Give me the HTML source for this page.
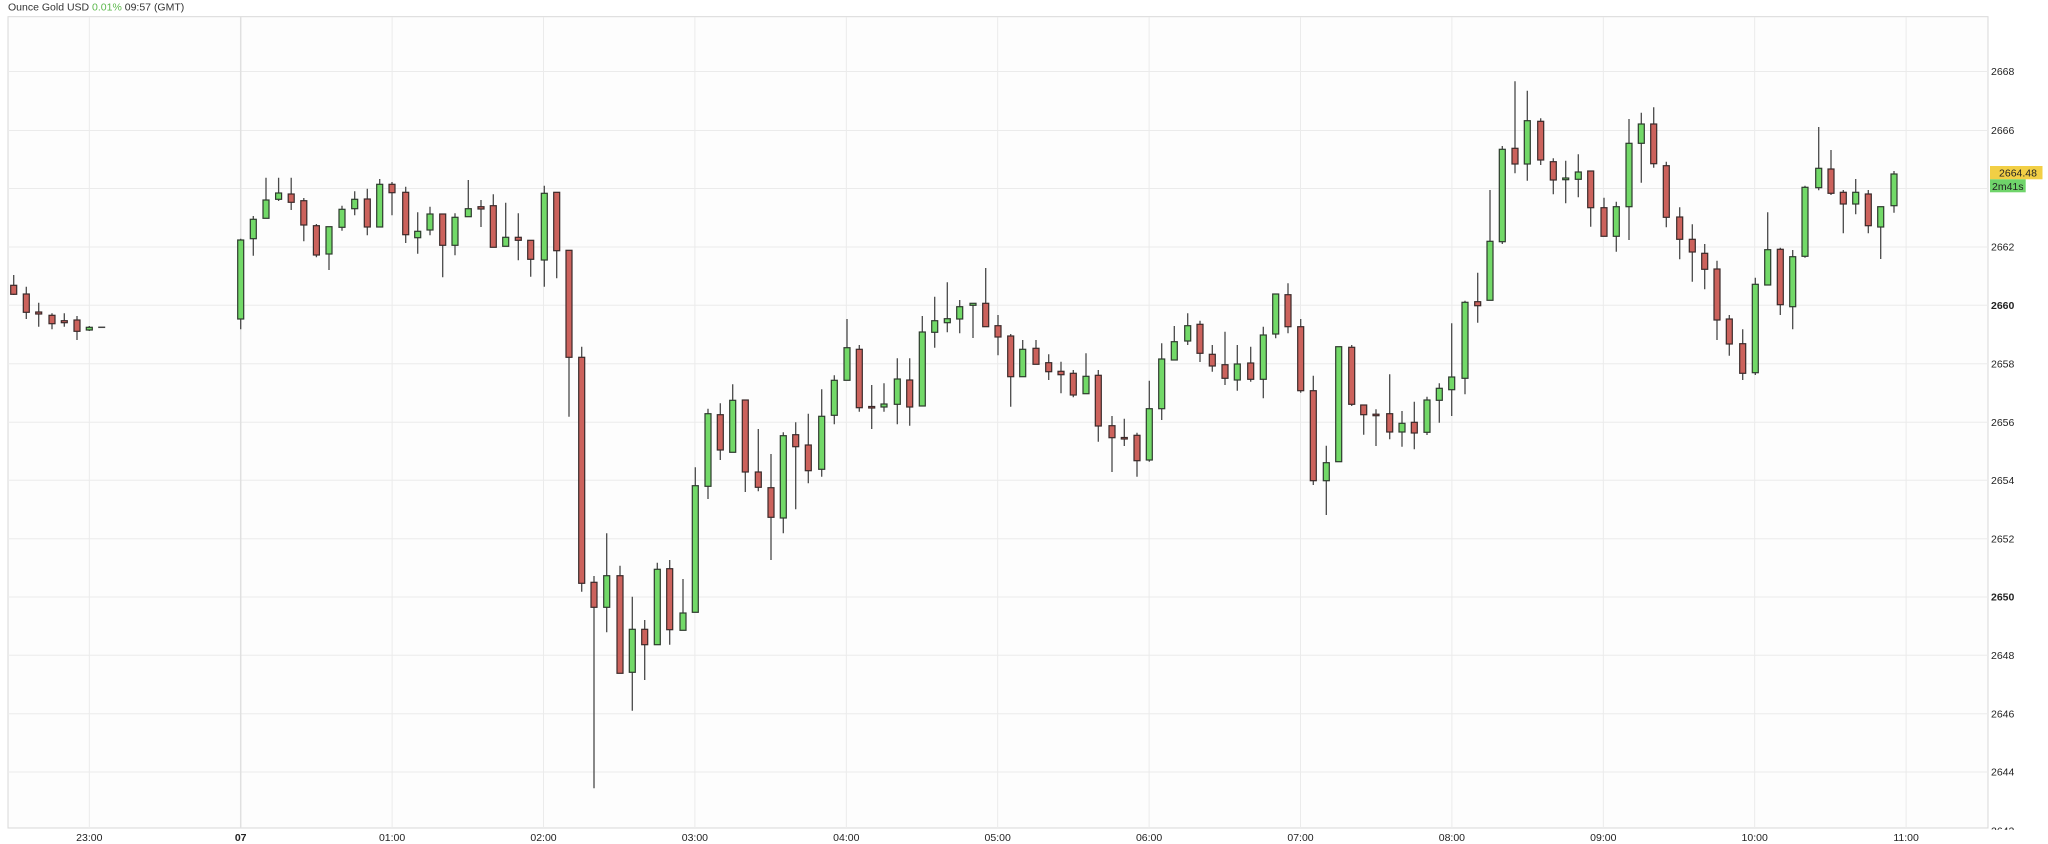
<!DOCTYPE html>
<html><head><meta charset="utf-8">
<style>
html,body{margin:0;padding:0;background:#fff;}
body{width:2048px;height:844px;overflow:hidden;}
svg{display:block;font-family:"Liberation Sans",Arial,sans-serif;}
.w{stroke:#4a4a4a;stroke-width:1.3;fill:none;}
.g rect{fill:#72d968;stroke:#2e3a2e;stroke-width:1.2;}
.r rect{fill:#cc625c;stroke:#3a2a2a;stroke-width:1.2;}
.grid{stroke:#ebebeb;stroke-width:1;}
.yl{font-size:10.5px;fill:#222;}
.xl{font-size:10.5px;fill:#222;text-anchor:middle;}
</style></head><body>
<svg width="2048" height="844" viewBox="0 0 2048 844" xmlns="http://www.w3.org/2000/svg">
<defs><clipPath id="axc"><rect x="1989" y="0" width="59" height="830"/></clipPath></defs>
<text x="8" y="10.5" font-size="10.5" fill="#333">Ounce Gold USD <tspan fill="#5cb84c">0.01%</tspan> 09:57 (GMT)</text>
<rect x="8" y="16.7" width="1980" height="811.3" fill="#fdfdfd" stroke="#d8d8d8" stroke-width="1"/>
<g class="grid">
<line x1="8" x2="1988" y1="71.5" y2="71.5"/>
<line x1="8" x2="1988" y1="130.5" y2="130.5"/>
<line x1="8" x2="1988" y1="188.5" y2="188.5"/>
<line x1="8" x2="1988" y1="247" y2="247"/>
<line x1="8" x2="1988" y1="305.3" y2="305.3"/>
<line x1="8" x2="1988" y1="363.7" y2="363.7"/>
<line x1="8" x2="1988" y1="422.3" y2="422.3"/>
<line x1="8" x2="1988" y1="480.3" y2="480.3"/>
<line x1="8" x2="1988" y1="538.7" y2="538.7"/>
<line x1="8" x2="1988" y1="597" y2="597"/>
<line x1="8" x2="1988" y1="655.3" y2="655.3"/>
<line x1="8" x2="1988" y1="713.7" y2="713.7"/>
<line x1="8" x2="1988" y1="772" y2="772"/>
<line x1="89.3" x2="89.3" y1="17" y2="828"/>
<line x1="392.1" x2="392.1" y1="17" y2="828"/>
<line x1="543.5" x2="543.5" y1="17" y2="828"/>
<line x1="694.9" x2="694.9" y1="17" y2="828"/>
<line x1="846.3" x2="846.3" y1="17" y2="828"/>
<line x1="997.7" x2="997.7" y1="17" y2="828"/>
<line x1="1149.1" x2="1149.1" y1="17" y2="828"/>
<line x1="1300.5" x2="1300.5" y1="17" y2="828"/>
<line x1="1451.9" x2="1451.9" y1="17" y2="828"/>
<line x1="1603.3" x2="1603.3" y1="17" y2="828"/>
<line x1="1754.7" x2="1754.7" y1="17" y2="828"/>
<line x1="1906.1" x2="1906.1" y1="17" y2="828"/>
</g>
<line x1="240.7" x2="240.7" y1="17" y2="828" stroke="#e0e0e0" stroke-width="1.5"/>
<path class="w" d="M13.7 275V295M26.3 286.7V319M38.7 302.7V326.7M52 313.3V329.3M64.3 313.3V326.7M77 316V340M89.3 326V331M240.7 238.7V329.3M253.3 216V255.7M266 177.7V218.3M278.6 177.7V201M291.2 177.7V210M303.8 198V241.3M316.4 224V257.3M329 226.7V270M342 205.7V230.7M354.7 191.3V215.3M367.3 188.7V235.3M379.7 179V227M392 182V215.3M405.7 186.7V243M417.7 212.3V253.7M430 206.7V235.3M442.7 214V277.3M455 213.3V255.3M468.3 180V216.7M481 200V227M493.3 194.3V247.3M505.7 202.7V246.3M518.3 213.3V260.3M530.7 240.3V276.7M544.3 185.7V286.7M556.7 192.3V278.3M569 250.3V416.7M581.7 346.7V591.7M594 576V788.3M606.7 533.3V632.3M620 565.7V673.3M632.3 596.7V710.7M644.7 620V680M657.3 562.7V644.7M669.7 560V644.7M683 579V630.3M695.3 467.3V612.3M708 408.7V499M720.3 403.3V460M732.7 384.3V452.3M745.3 400V492M758.3 429V491.3M771 454V560M783.3 432.3V533.3M795.7 422.3V509.3M808.3 413.7V483.3M821.7 389.3V476.7M834.3 375.3V424.3M847 319V380.3M859.3 345V411.7M871.7 385V429M884 383.3V411.7M897.3 358.3V424.3M909.7 358.3V425.7M922.3 316V406M934.7 296.7V347.7M947.3 282.3V332.3M959.7 300V333.3M973 303.3V338M985.7 268V326.7M998 315V355.3M1010.7 334V406.7M1022.7 340V376.7M1036 340V364.3M1048.7 354.3V380M1061 361.7V393.3M1073.3 370V397.3M1086 353.3V393.7M1098.3 370V441.7M1112 416V472M1124.3 418.7V446M1137 432.7V476.7M1149.3 380.7V461.7M1161.7 343.3V420M1174.3 326V360M1187.7 313.3V345M1200 320.7V362M1212.3 345V371.7M1225 331.7V385M1237.3 345V390.7M1250.7 346.7V381.7M1263.3 326.7V398.3M1275.7 294V338.3M1288 283.3V333.3M1300.7 319V392.7M1313.3 375.7V485M1326.3 445.7V515M1338.7 346.7V461.7M1351.7 345V406M1363.7 405V434.7M1376 409.3V446M1389.7 374.3V439.3M1402 411V446.7M1414.3 401.7V449.3M1427 396.7V435M1439.3 383.3V422.7M1451.7 323.3V416M1465 300.7V394.3M1477.7 272.7V322.7M1490 190V300.3M1502.3 146V244M1515 81.3V173.3M1527.3 90.7V180.7M1540.7 118.3V165M1553.3 158.3V194.3M1565.7 160.7V203.3M1578.3 154.3V197.3M1590.7 171V226.7M1604 197.7V236.3M1616.3 201.7V251.7M1629 119V240M1641.3 112.7V182.7M1653.7 107.3V167.7M1666.3 161.7V227.3M1679.7 207.3V259.3M1692.3 224.3V281.7M1704.7 244V289.3M1717 260.7V340M1729.3 315V355.7M1742.7 329.3V380M1755.3 277.7V375M1767.7 212.3V285M1780.3 247.7V315M1792.7 250V329.3M1805 185.7V257.7M1818.7 127V190.3M1831 150V195M1843.3 190V233.3M1855.7 179V214.3M1868.3 190V233.3M1880.7 206.7V259M1894 171V212.7"/>
<line x1="98.2" x2="105.2" y1="327.3" y2="327.3" stroke="#444" stroke-width="1.5"/>
<g class="r">
<rect x="10.7" y="285.3" width="6" height="9"/>
<rect x="23.3" y="294" width="6" height="18.3"/>
<rect x="35.7" y="312" width="6" height="2"/>
<rect x="49" y="315.3" width="6" height="8.4"/>
<rect x="61.3" y="320.7" width="6" height="2"/>
<rect x="74" y="320" width="6" height="11.3"/>
<rect x="288.2" y="194" width="6" height="8.3"/>
<rect x="300.8" y="200.7" width="6" height="24.3"/>
<rect x="313.4" y="225.7" width="6" height="29.3"/>
<rect x="364.3" y="199" width="6" height="28"/>
<rect x="389" y="184.3" width="6" height="8.4"/>
<rect x="402.7" y="192.3" width="6" height="42.4"/>
<rect x="439.7" y="214" width="6" height="31.3"/>
<rect x="478" y="206.7" width="6" height="2.3"/>
<rect x="490.3" y="205.7" width="6" height="41.6"/>
<rect x="515.3" y="237.3" width="6" height="3"/>
<rect x="527.7" y="240.3" width="6" height="19"/>
<rect x="553.7" y="192.3" width="6" height="58.4"/>
<rect x="566" y="250.3" width="6" height="107"/>
<rect x="578.7" y="357.3" width="6" height="226"/>
<rect x="591" y="582.3" width="6" height="25"/>
<rect x="617" y="575.7" width="6" height="97.6"/>
<rect x="641.7" y="629.3" width="6" height="15.4"/>
<rect x="666.7" y="568.7" width="6" height="61"/>
<rect x="717.3" y="414.7" width="6" height="35.3"/>
<rect x="742.3" y="400" width="6" height="72"/>
<rect x="755.3" y="472" width="6" height="15.3"/>
<rect x="768" y="487.7" width="6" height="29.6"/>
<rect x="792.7" y="434.7" width="6" height="12"/>
<rect x="805.3" y="445" width="6" height="25.7"/>
<rect x="856.3" y="349.3" width="6" height="58.4"/>
<rect x="868.7" y="406.5" width="6" height="1.5"/>
<rect x="906.7" y="380" width="6" height="27"/>
<rect x="982.7" y="303.3" width="6" height="23.4"/>
<rect x="995" y="325.7" width="6" height="11.3"/>
<rect x="1007.7" y="336" width="6" height="40.7"/>
<rect x="1033" y="348.3" width="6" height="16"/>
<rect x="1045.7" y="362.7" width="6" height="9"/>
<rect x="1058" y="371.3" width="6" height="3.4"/>
<rect x="1070.3" y="373.3" width="6" height="21.7"/>
<rect x="1095.3" y="375.3" width="6" height="50.7"/>
<rect x="1109" y="425.7" width="6" height="12"/>
<rect x="1121.3" y="437.5" width="6" height="1.5"/>
<rect x="1134" y="435.3" width="6" height="25.4"/>
<rect x="1197" y="324.3" width="6" height="29"/>
<rect x="1209.3" y="354.3" width="6" height="11.7"/>
<rect x="1222" y="364.7" width="6" height="13.6"/>
<rect x="1247.7" y="363" width="6" height="16.3"/>
<rect x="1285" y="294.7" width="6" height="32"/>
<rect x="1297.7" y="326.7" width="6" height="64"/>
<rect x="1310.3" y="390.7" width="6" height="90"/>
<rect x="1348.7" y="347.3" width="6" height="57"/>
<rect x="1360.7" y="405" width="6" height="9.7"/>
<rect x="1373" y="414.2" width="6" height="1.5"/>
<rect x="1386.7" y="413.7" width="6" height="18.3"/>
<rect x="1411.3" y="422.3" width="6" height="10.7"/>
<rect x="1474.7" y="301.7" width="6" height="4"/>
<rect x="1512" y="148.3" width="6" height="15.7"/>
<rect x="1537.7" y="121.3" width="6" height="38.7"/>
<rect x="1550.3" y="161.7" width="6" height="18.3"/>
<rect x="1587.7" y="171" width="6" height="36.7"/>
<rect x="1601" y="207.7" width="6" height="28.6"/>
<rect x="1650.7" y="124" width="6" height="39.7"/>
<rect x="1663.3" y="165.7" width="6" height="51.6"/>
<rect x="1676.7" y="217" width="6" height="22.3"/>
<rect x="1689.3" y="239.3" width="6" height="12.7"/>
<rect x="1701.7" y="253.3" width="6" height="16"/>
<rect x="1714" y="269" width="6" height="51"/>
<rect x="1726.3" y="319" width="6" height="25"/>
<rect x="1739.7" y="343.7" width="6" height="29.6"/>
<rect x="1777.3" y="249.3" width="6" height="55.4"/>
<rect x="1828" y="169" width="6" height="24.3"/>
<rect x="1840.3" y="192.3" width="6" height="11.7"/>
<rect x="1865.3" y="194" width="6" height="31.7"/>
</g>
<g class="g">
<rect x="86.3" y="327.3" width="6" height="2.7"/>
<rect x="237.7" y="240" width="6" height="79"/>
<rect x="250.3" y="219.3" width="6" height="19.4"/>
<rect x="263" y="200" width="6" height="18.3"/>
<rect x="275.6" y="193" width="6" height="6.3"/>
<rect x="326" y="226.7" width="6" height="27.3"/>
<rect x="339" y="209.3" width="6" height="18"/>
<rect x="351.7" y="199.3" width="6" height="9.4"/>
<rect x="376.7" y="184.3" width="6" height="42.7"/>
<rect x="414.7" y="231.3" width="6" height="6.4"/>
<rect x="427" y="214" width="6" height="16"/>
<rect x="452" y="217.3" width="6" height="28"/>
<rect x="465.3" y="208.7" width="6" height="8"/>
<rect x="502.7" y="237.3" width="6" height="9"/>
<rect x="541.3" y="193.3" width="6" height="66.7"/>
<rect x="603.7" y="575.7" width="6" height="31.6"/>
<rect x="629.3" y="629.3" width="6" height="43"/>
<rect x="654.3" y="569.3" width="6" height="75.4"/>
<rect x="680" y="613" width="6" height="17.3"/>
<rect x="692.3" y="485.7" width="6" height="126.6"/>
<rect x="705" y="413.7" width="6" height="72.6"/>
<rect x="729.7" y="400.3" width="6" height="52"/>
<rect x="780.3" y="435.7" width="6" height="82.3"/>
<rect x="818.7" y="416.3" width="6" height="53"/>
<rect x="831.3" y="380.3" width="6" height="35"/>
<rect x="844" y="347.7" width="6" height="32.6"/>
<rect x="881" y="404" width="6" height="3"/>
<rect x="894.3" y="379" width="6" height="25.3"/>
<rect x="919.3" y="332" width="6" height="74"/>
<rect x="931.7" y="320.7" width="6" height="11.6"/>
<rect x="944.3" y="318.7" width="6" height="4"/>
<rect x="956.7" y="306.7" width="6" height="12.3"/>
<rect x="970" y="303.3" width="6" height="2"/>
<rect x="1019.7" y="349.3" width="6" height="27.4"/>
<rect x="1083" y="376.3" width="6" height="17.4"/>
<rect x="1146.3" y="408.7" width="6" height="51.3"/>
<rect x="1158.7" y="359" width="6" height="49.7"/>
<rect x="1171.3" y="341.7" width="6" height="18.3"/>
<rect x="1184.7" y="325.7" width="6" height="15.3"/>
<rect x="1234.3" y="364" width="6" height="16"/>
<rect x="1260.3" y="335" width="6" height="44.3"/>
<rect x="1272.7" y="294" width="6" height="40"/>
<rect x="1323.3" y="462.7" width="6" height="18"/>
<rect x="1335.7" y="346.7" width="6" height="115"/>
<rect x="1399" y="423.3" width="6" height="8.7"/>
<rect x="1424" y="400" width="6" height="32.3"/>
<rect x="1436.3" y="388.3" width="6" height="12"/>
<rect x="1448.7" y="377" width="6" height="12.7"/>
<rect x="1462" y="302.3" width="6" height="76"/>
<rect x="1487" y="241.3" width="6" height="59"/>
<rect x="1499.3" y="149.3" width="6" height="92.4"/>
<rect x="1524.3" y="120.7" width="6" height="43.3"/>
<rect x="1562.7" y="178" width="6" height="1.7"/>
<rect x="1575.3" y="172" width="6" height="7.3"/>
<rect x="1613.3" y="206.7" width="6" height="29.6"/>
<rect x="1626" y="143.3" width="6" height="63.4"/>
<rect x="1638.3" y="124" width="6" height="19.3"/>
<rect x="1752.3" y="284.3" width="6" height="88.4"/>
<rect x="1764.7" y="249.7" width="6" height="35.3"/>
<rect x="1789.7" y="256.7" width="6" height="50"/>
<rect x="1802" y="187.3" width="6" height="69"/>
<rect x="1815.7" y="168.3" width="6" height="19.4"/>
<rect x="1852.7" y="192.3" width="6" height="11.7"/>
<rect x="1877.7" y="206.7" width="6" height="20.3"/>
<rect x="1891" y="174" width="6" height="31.7"/>
</g>
<g clip-path="url(#axc)">
<text class="yl" x="1991" y="75.2">2668</text>
<text class="yl" x="1991" y="134.2">2666</text>
<text class="yl" x="1991" y="250.7">2662</text>
<text class="yl" x="1991" y="309" font-weight="bold">2660</text>
<text class="yl" x="1991" y="367.4">2658</text>
<text class="yl" x="1991" y="426">2656</text>
<text class="yl" x="1991" y="484">2654</text>
<text class="yl" x="1991" y="542.4">2652</text>
<text class="yl" x="1991" y="600.7" font-weight="bold">2650</text>
<text class="yl" x="1991" y="659">2648</text>
<text class="yl" x="1991" y="717.4">2646</text>
<text class="yl" x="1991" y="775.7">2644</text>
<text class="yl" x="1991" y="834.5">2642</text>
</g>
<rect x="1990" y="166" width="52.5" height="13.3" fill="#f2cf45"/>
<text x="2037" y="176.5" font-size="10.5" fill="#222" text-anchor="end">2664.48</text>
<rect x="1990" y="179.3" width="35.7" height="13" fill="#6fd46a"/>
<text x="1992" y="189.8" font-size="10.5" fill="#222">2m41s</text>
<text class="xl" x="89.3" y="841">23:00</text>
<text class="xl" x="240.7" y="841" font-weight="bold">07</text>
<text class="xl" x="392.1" y="841">01:00</text>
<text class="xl" x="543.5" y="841">02:00</text>
<text class="xl" x="694.9" y="841">03:00</text>
<text class="xl" x="846.3" y="841">04:00</text>
<text class="xl" x="997.7" y="841">05:00</text>
<text class="xl" x="1149.1" y="841">06:00</text>
<text class="xl" x="1300.5" y="841">07:00</text>
<text class="xl" x="1451.9" y="841">08:00</text>
<text class="xl" x="1603.3" y="841">09:00</text>
<text class="xl" x="1754.7" y="841">10:00</text>
<text class="xl" x="1906.1" y="841">11:00</text>
</svg>
</body></html>
